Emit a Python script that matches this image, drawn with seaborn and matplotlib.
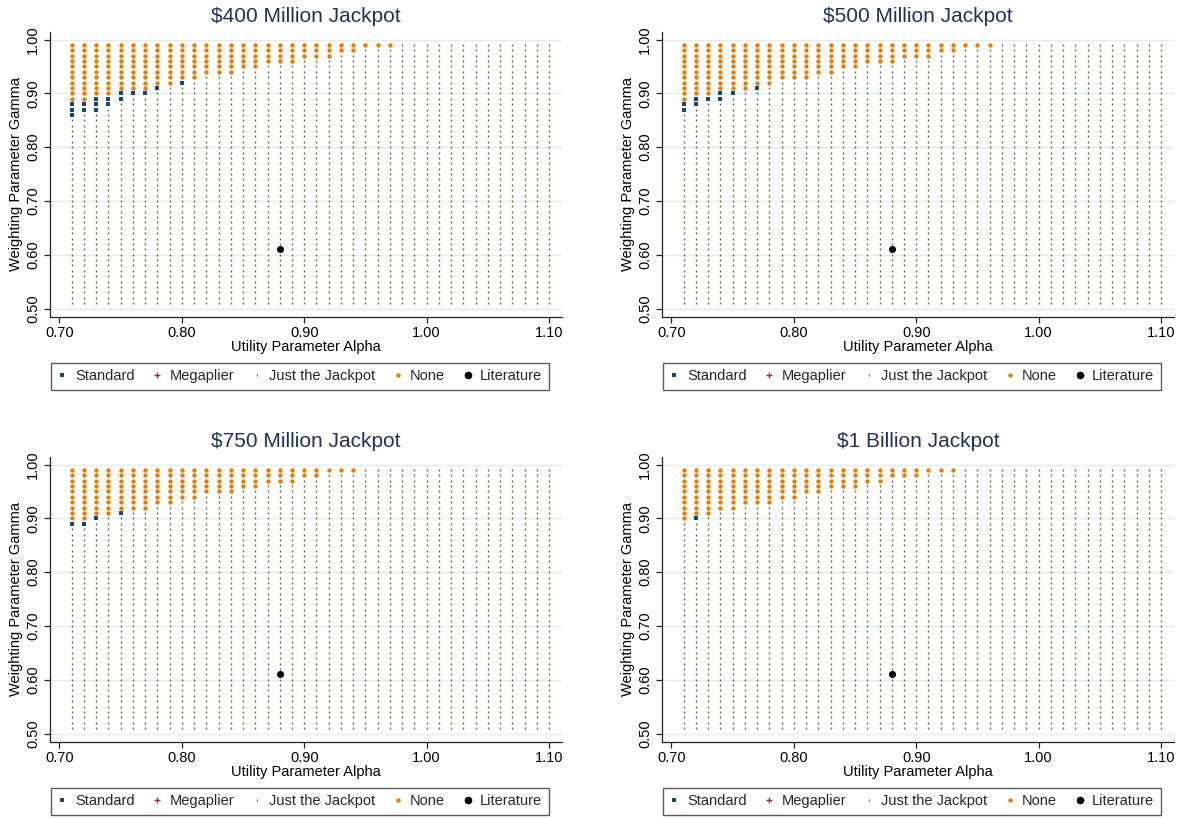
import numpy as np
import pandas as pd
import matplotlib
matplotlib.use("Agg")
import matplotlib.pyplot as plt
from matplotlib.lines import Line2D
import seaborn as sns

# Parameter grid (utility curvature alpha, probability weighting gamma)
alpha_grid = np.round(np.arange(71, 111) / 100, 2)
gamma_grid = np.round(np.arange(51, 100) / 100, 2)

titles = [r"\$400 Million Jackpot", r"\$500 Million Jackpot",
          r"\$750 Million Jackpot", r"\$1 Billion Jackpot"]

# Lowest gamma at which no ticket is bought, for alpha = 0.71, 0.72, ...
# (alphas beyond the end of each list never reach "None")
none_floor_400 = [0.89, 0.89, 0.90, 0.90, 0.91, 0.91, 0.91, 0.92, 0.92, 0.93,
                  0.93, 0.94, 0.94, 0.94, 0.95, 0.95, 0.96, 0.96, 0.96, 0.97,
                  0.97, 0.97, 0.98, 0.98, 0.99, 0.99, 0.99]
none_floor_500 = [0.89, 0.90, 0.90, 0.91, 0.91, 0.91, 0.92, 0.92, 0.93, 0.93,
                  0.93, 0.94, 0.94, 0.95, 0.95, 0.96, 0.96, 0.96, 0.97, 0.97,
                  0.97, 0.98, 0.98, 0.99, 0.99, 0.99]
none_floor_750 = [0.90, 0.90, 0.91, 0.91, 0.92, 0.92, 0.92, 0.93, 0.93, 0.94,
                  0.94, 0.95, 0.95, 0.95, 0.96, 0.96, 0.97, 0.97, 0.97, 0.98,
                  0.98, 0.99, 0.99, 0.99]
none_floor_1b = [0.90, 0.91, 0.91, 0.92, 0.92, 0.93, 0.93, 0.93, 0.94, 0.94,
                 0.95, 0.95, 0.96, 0.96, 0.96, 0.97, 0.97, 0.98, 0.98, 0.98,
                 0.99, 0.99, 0.99]

# (alpha, gamma) cells where the standard ticket is optimal
std_alpha_400 = [0.71, 0.71, 0.71, 0.72, 0.72, 0.73, 0.73, 0.73, 0.74, 0.74,
                 0.75, 0.75, 0.76, 0.77, 0.78, 0.80]
std_gamma_400 = [0.88, 0.87, 0.86, 0.88, 0.87, 0.89, 0.88, 0.87, 0.89, 0.88,
                 0.90, 0.89, 0.90, 0.90, 0.91, 0.92]
std_alpha_500 = [0.71, 0.71, 0.72, 0.72, 0.73, 0.74, 0.74, 0.75, 0.77]
std_gamma_500 = [0.88, 0.87, 0.89, 0.88, 0.89, 0.90, 0.89, 0.90, 0.91]
std_alpha_750 = [0.71, 0.72, 0.73, 0.75]
std_gamma_750 = [0.89, 0.89, 0.90, 0.91]
std_alpha_1b = [0.72]
std_gamma_1b = [0.90]

# Estimates from the literature
lit_alpha = [0.88]
lit_gamma = [0.61]

panels = [
    (none_floor_400, std_alpha_400, std_gamma_400),
    (none_floor_500, std_alpha_500, std_gamma_500),
    (none_floor_750, std_alpha_750, std_gamma_750),
    (none_floor_1b, std_alpha_1b, std_gamma_1b),
]

categories = ["Standard", "Megaplier", "Just the Jackpot", "None"]
colors = {"Standard": "#1a476f", "Megaplier": "#90353b",
          "Just the Jackpot": "#55752f", "None": "#e37e00"}
markers = {"Standard": "s", "Megaplier": "P",
           "Just the Jackpot": "|", "None": "o"}
sizes = {"Standard": 12, "Megaplier": 10, "Just the Jackpot": 3, "None": 10}


def classify(none_floor, std_a, std_g):
    std = set(zip(np.round(std_a, 2), np.round(std_g, 2)))
    rows = []
    for i, a in enumerate(alpha_grid):
        floor = none_floor[i] if i < len(none_floor) else 9.0
        for g in gamma_grid:
            if g >= floor - 1e-9:
                cat = "None"
            elif (a, g) in std:
                cat = "Standard"
            else:
                cat = "Just the Jackpot"
            rows.append((a, g, cat))
    return pd.DataFrame(rows, columns=["alpha", "gamma", "option"])


sns.set_theme(style="white")
plt.rcParams["font.family"] = ["Liberation Sans", "DejaVu Sans"]

W, H = 1184, 819
fig = plt.figure(figsize=(W / 100, H / 100), dpi=100)

# axes rectangles in pixels: left, right, top, bottom
rects = [(50, 562, 31.7, 316.7), (662, 1174, 31.7, 316.7),
         (50, 562, 456.7, 741.7), (662, 1174, 456.7, 741.7)]

axis_col = "#222222"
for k, ((none_floor, sa, sg), title, (l, r, t, b)) in enumerate(zip(panels, titles, rects)):
    ax = fig.add_axes([l / W, 1 - b / H, (r - l) / W, (b - t) / H])
    df = classify(none_floor, sa, sg)
    for g in [0.5, 0.6, 0.7, 0.8, 0.9, 1.0]:
        ax.axhline(g, color="#e2ebee", lw=1.0, zorder=0)
    for cat in ["Just the Jackpot", "None", "Standard"]:
        sub = df[df["option"] == cat]
        if cat == "Just the Jackpot":
            sns.scatterplot(data=sub, x="alpha", y="gamma", ax=ax, marker="|",
                            s=sizes[cat], color=colors[cat], linewidth=1.0,
                            legend=False, zorder=2)
        else:
            sns.scatterplot(data=sub, x="alpha", y="gamma", ax=ax,
                            marker=markers[cat], s=sizes[cat], color=colors[cat],
                            linewidth=0, legend=False, zorder=3)
    lit = pd.DataFrame({"alpha": lit_alpha, "gamma": lit_gamma})
    sns.scatterplot(data=lit, x="alpha", y="gamma", ax=ax, marker="o", s=26,
                    color="black", linewidth=0, legend=False, zorder=4)

    ax.set_xlim(0.6923, 1.1106)
    ax.set_ylim(0.4848, 1.0147)
    ax.set_xticks([0.7, 0.8, 0.9, 1.0, 1.1])
    ax.set_xticklabels(["0.70", "0.80", "0.90", "1.00", "1.10"])
    ax.set_yticks([0.5, 0.6, 0.7, 0.8, 0.9, 1.0])
    ax.set_yticklabels(["0.50", "0.60", "0.70", "0.80", "0.90", "1.00"],
                       rotation=90, va="center")
    ax.tick_params(axis="both", direction="out", length=4, width=0.9,
                   color=axis_col, labelsize=10.5, labelcolor="black", pad=3,
                   bottom=True, left=True)
    for side in ["top", "right"]:
        ax.spines[side].set_visible(False)
    for side in ["left", "bottom"]:
        ax.spines[side].set_color(axis_col)
        ax.spines[side].set_linewidth(0.9)
    ax.set_xlabel("Utility Parameter Alpha", fontsize=10.5, color="black")
    ax.set_ylabel("Weighting Parameter Gamma", fontsize=10.5, color="black")
    ax.xaxis.set_label_coords(0.5, -0.083)
    ax.yaxis.set_label_coords(-0.052, 0.5)
    ax.set_title(title, fontsize=15, color="#1f3258", pad=7)

    handles = [
        Line2D([], [], ls="", marker="s", ms=3.4, color=colors["Standard"], mew=0),
        Line2D([], [], ls="", marker="+", ms=4, color=colors["Megaplier"], mew=1.0),
        Line2D([], [], ls="", marker="|", ms=1.8, color=colors["Just the Jackpot"], mew=0.9),
        Line2D([], [], ls="", marker="o", ms=3.2, color=colors["None"], mew=0),
        Line2D([], [], ls="", marker="o", ms=5.5, color="black", mew=0),
    ]
    labels = categories + ["Literature"]
    leg = ax.legend(handles, labels, loc="upper center",
                    bbox_to_anchor=(0.488, -0.162), ncol=5, fontsize=10.5,
                    frameon=True, fancybox=False, handlelength=0.7,
                    handletextpad=0.5, columnspacing=1.2, borderpad=0.45,
                    borderaxespad=0)
    leg.get_frame().set_edgecolor("#333333")
    leg.get_frame().set_linewidth(1.0)

fig.savefig("out.png", dpi=100, facecolor="white")
